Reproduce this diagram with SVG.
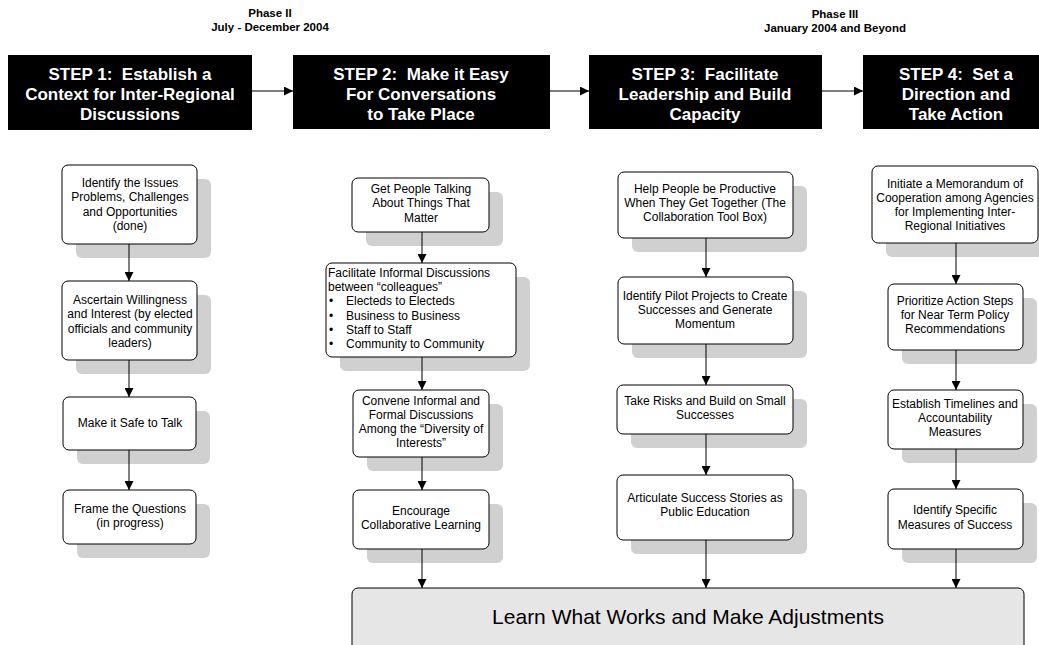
<svg xmlns="http://www.w3.org/2000/svg" width="1039" height="645" viewBox="0 0 1039 645">
<defs>
<style>
.hdr{fill:#000}
.ht{font-family:"Liberation Sans",Arial,sans-serif;font-weight:bold;font-size:17px;fill:#fff;text-anchor:middle;white-space:pre}
.ph{font-family:"Liberation Sans",Arial,sans-serif;font-weight:bold;font-size:11.5px;fill:#000;text-anchor:middle}
.box{fill:#fff;stroke:#000;stroke-width:1}
.sh{fill:#d0d0d0}
.t{font-family:"Liberation Sans",Arial,sans-serif;font-size:12px;fill:#000;text-anchor:middle}
.tl{font-family:"Liberation Sans",Arial,sans-serif;font-size:12px;fill:#000}
.ln{stroke:#000;stroke-width:1;fill:none;marker-end:url(#ah)}
</style>
<marker id="ah" viewBox="0 0 10 10" refX="10" refY="5" markerWidth="9" markerHeight="9" markerUnits="userSpaceOnUse" orient="auto">
<path d="M0,0 L10,5 L0,10 z" fill="#000"/>
</marker>
</defs>
<rect width="1039" height="645" fill="#fff"/>

<g id="phase2">
<text class="ph" x="270" y="17">Phase II</text>
<text class="ph" x="270" y="31">July - December 2004</text>
</g>
<g id="phase3">
<text class="ph" x="835" y="18">Phase III</text>
<text class="ph" x="835" y="32">January 2004 and Beyond</text>
</g>

<g id="step1">
<rect class="hdr" x="8" y="55" width="244" height="75"/>
<text class="ht" x="130" y="80" xml:space="preserve">STEP 1:  Establish a</text>
<text class="ht" x="130" y="100">Context for Inter-Regional</text>
<text class="ht" x="130" y="120">Discussions</text>
</g>
<g id="step2">
<rect class="hdr" x="293" y="55" width="257" height="74"/>
<text class="ht" x="421" y="80" xml:space="preserve">STEP 2:  Make it Easy</text>
<text class="ht" x="421" y="100">For Conversations</text>
<text class="ht" x="421" y="120">to Take Place</text>
</g>
<g id="step3">
<rect class="hdr" x="589" y="55" width="233" height="74"/>
<text class="ht" x="705" y="80" xml:space="preserve">STEP 3:  Facilitate</text>
<text class="ht" x="705" y="100">Leadership and Build</text>
<text class="ht" x="705" y="120">Capacity</text>
</g>
<g id="step4">
<rect class="hdr" x="863" y="55" width="180" height="74"/>
<text class="ht" x="956" y="80" xml:space="preserve">STEP 4:  Set a</text>
<text class="ht" x="956" y="100">Direction and</text>
<text class="ht" x="956" y="120">Take Action</text>
</g>

<!-- Column 1 -->
<g id="c1n1">
<rect class="sh" x="76" y="179" width="135" height="79" rx="6"/>
<rect class="box" x="62" y="165" width="135" height="79" rx="6"/>
<text class="t" x="130" y="187">Identify the Issues</text>
<text class="t" x="130" y="201">Problems, Challenges</text>
<text class="t" x="130" y="216">and Opportunities</text>
<text class="t" x="130" y="230">(done)</text>
</g>
<g id="c1n2">
<rect class="sh" x="76" y="295" width="135" height="79" rx="6"/>
<rect class="box" x="62" y="281" width="135" height="79" rx="6"/>
<text class="t" x="130" y="304">Ascertain Willingness</text>
<text class="t" x="130" y="318">and Interest (by elected</text>
<text class="t" x="130" y="333">officials and community</text>
<text class="t" x="130" y="347">leaders)</text>
</g>
<g id="c1n3">
<rect class="sh" x="77" y="411" width="133" height="53" rx="6"/>
<rect class="box" x="63" y="397" width="133" height="53" rx="6"/>
<text class="t" x="130" y="427">Make it Safe to Talk</text>
</g>
<g id="c1n4">
<rect class="sh" x="77" y="504" width="133" height="54" rx="6"/>
<rect class="box" x="63" y="490" width="133" height="54" rx="6"/>
<text class="t" x="130" y="513">Frame the Questions</text>
<text class="t" x="130" y="527">(in progress)</text>
</g>

<!-- Column 2 -->
<g id="c2n1">
<rect class="sh" x="366" y="192" width="137" height="54" rx="6"/>
<rect class="box" x="352" y="178" width="137" height="54" rx="6"/>
<text class="t" x="421" y="193">Get People Talking</text>
<text class="t" x="421" y="207">About Things That</text>
<text class="t" x="421" y="222">Matter</text>
</g>
<g id="c2n2">
<rect class="sh" x="340" y="277" width="190" height="94" rx="6"/>
<rect class="box" x="326" y="263" width="190" height="94" rx="6"/>
<text class="tl" x="328" y="277">Facilitate Informal Discussions</text>
<text class="tl" x="328" y="291">between “colleagues”</text>
<text class="tl" x="329" y="305">•</text><text class="tl" x="346" y="305">Electeds to Electeds</text>
<text class="tl" x="329" y="320">•</text><text class="tl" x="346" y="320">Business to Business</text>
<text class="tl" x="329" y="334">•</text><text class="tl" x="346" y="334">Staff to Staff</text>
<text class="tl" x="329" y="348">•</text><text class="tl" x="346" y="348">Community to Community</text>
</g>
<g id="c2n3">
<rect class="sh" x="367" y="404" width="136" height="67" rx="6"/>
<rect class="box" x="353" y="390" width="136" height="67" rx="6"/>
<text class="t" x="421" y="405">Convene Informal and</text>
<text class="t" x="421" y="419">Formal Discussions</text>
<text class="t" x="421" y="433">Among the “Diversity of</text>
<text class="t" x="421" y="447">Interests”</text>
</g>
<g id="c2n4">
<rect class="sh" x="367" y="504" width="136" height="59" rx="6"/>
<rect class="box" x="353" y="490" width="136" height="59" rx="6"/>
<text class="t" x="421" y="515">Encourage</text>
<text class="t" x="421" y="529">Collaborative Learning</text>
</g>

<!-- Column 3 -->
<g id="c3n1">
<rect class="sh" x="632" y="186" width="175" height="66" rx="6"/>
<rect class="box" x="618" y="172" width="175" height="66" rx="6"/>
<text class="t" x="705" y="193">Help People be Productive</text>
<text class="t" x="705" y="207">When They Get Together (The</text>
<text class="t" x="705" y="221">Collaboration Tool Box)</text>
</g>
<g id="c3n2">
<rect class="sh" x="632" y="291" width="175" height="67" rx="6"/>
<rect class="box" x="618" y="277" width="175" height="67" rx="6"/>
<text class="t" x="705" y="300">Identify Pilot Projects to Create</text>
<text class="t" x="705" y="314">Successes and Generate</text>
<text class="t" x="705" y="328">Momentum</text>
</g>
<g id="c3n3">
<rect class="sh" x="631" y="399" width="176" height="49" rx="6"/>
<rect class="box" x="617" y="385" width="176" height="49" rx="6"/>
<text class="t" x="705" y="405">Take Risks and Build on Small</text>
<text class="t" x="705" y="419">Successes</text>
</g>
<g id="c3n4">
<rect class="sh" x="631" y="489" width="176" height="65" rx="6"/>
<rect class="box" x="617" y="475" width="176" height="65" rx="6"/>
<text class="t" x="705" y="502">Articulate Success Stories as</text>
<text class="t" x="705" y="516">Public Education</text>
</g>

<!-- Column 4 -->
<g id="c4n1">
<rect class="sh" x="886" y="180" width="166" height="77" rx="6"/>
<rect class="box" x="872" y="166" width="166" height="77" rx="6"/>
<text class="t" x="955" y="188">Initiate a Memorandum of</text>
<text class="t" x="955" y="202">Cooperation among Agencies</text>
<text class="t" x="955" y="216">for Implementing Inter-</text>
<text class="t" x="955" y="230">Regional Initiatives</text>
</g>
<g id="c4n2">
<rect class="sh" x="902" y="298" width="135" height="66" rx="6"/>
<rect class="box" x="888" y="284" width="135" height="66" rx="6"/>
<text class="t" x="955" y="305">Prioritize Action Steps</text>
<text class="t" x="955" y="319">for Near Term Policy</text>
<text class="t" x="955" y="333">Recommendations</text>
</g>
<g id="c4n3">
<rect class="sh" x="902" y="404" width="135" height="59" rx="6"/>
<rect class="box" x="888" y="390" width="135" height="59" rx="6"/>
<text class="t" x="955" y="408">Establish Timelines and</text>
<text class="t" x="955" y="422">Accountability</text>
<text class="t" x="955" y="436">Measures</text>
</g>
<g id="c4n4">
<rect class="sh" x="902" y="503" width="135" height="60" rx="6"/>
<rect class="box" x="888" y="489" width="135" height="60" rx="6"/>
<text class="t" x="955" y="514">Identify Specific</text>
<text class="t" x="955" y="529">Measures of Success</text>
</g>

<g id="learn">
<rect x="352" y="588" width="672" height="70" rx="6" fill="#e6e6e6" stroke="#000" stroke-width="1"/>
<text x="688" y="624" font-family="Liberation Sans, Arial, sans-serif" font-size="21" text-anchor="middle" fill="#000">Learn What Works and Make Adjustments</text>
</g>

<g id="connectors">
<line class="ln" x1="252" y1="91" x2="293" y2="91"/>
<line class="ln" x1="550" y1="91" x2="589" y2="91"/>
<line class="ln" x1="822" y1="91" x2="863" y2="91"/>
<line class="ln" x1="129" y1="244" x2="129" y2="281"/>
<line class="ln" x1="129" y1="360" x2="129" y2="397"/>
<line class="ln" x1="129" y1="450" x2="129" y2="490"/>
<line class="ln" x1="422" y1="232" x2="422" y2="263"/>
<line class="ln" x1="422" y1="357" x2="422" y2="390"/>
<line class="ln" x1="422" y1="457" x2="422" y2="490"/>
<line class="ln" x1="422" y1="549" x2="422" y2="588"/>
<line class="ln" x1="706" y1="238" x2="706" y2="277"/>
<line class="ln" x1="706" y1="344" x2="706" y2="385"/>
<line class="ln" x1="706" y1="434" x2="706" y2="475"/>
<line class="ln" x1="706" y1="540" x2="706" y2="588"/>
<line class="ln" x1="956" y1="243" x2="956" y2="284"/>
<line class="ln" x1="956" y1="350" x2="956" y2="390"/>
<line class="ln" x1="956" y1="449" x2="956" y2="489"/>
<line class="ln" x1="956" y1="549" x2="956" y2="588"/>
</g>
</svg>
